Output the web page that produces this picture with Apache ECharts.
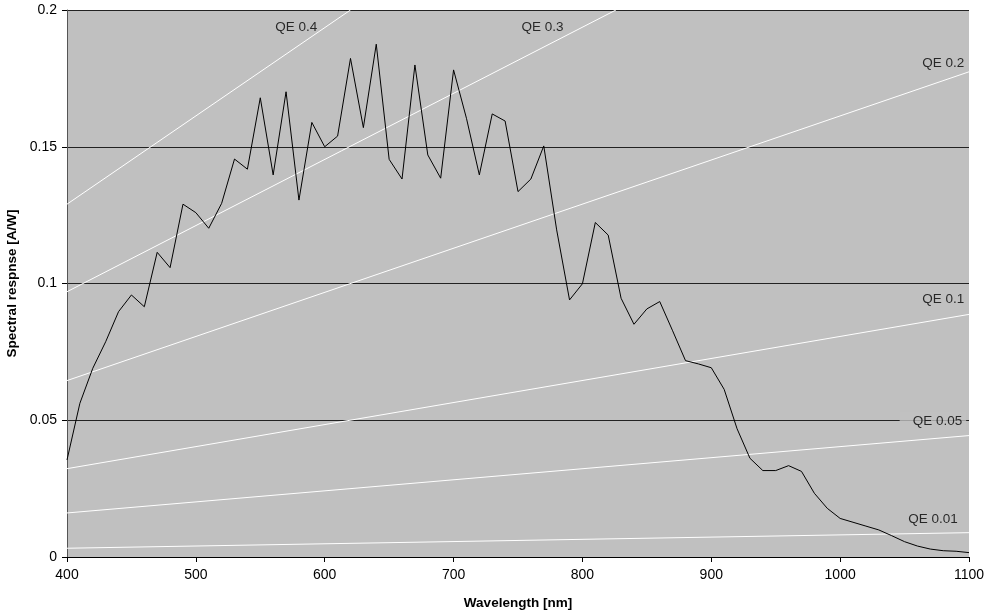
<!DOCTYPE html>
<html>
<head>
<meta charset="utf-8">
<script src="https://cdn.jsdelivr.net/npm/echarts@6/dist/echarts.min.js"></script>
<style>
  html, body { margin: 0; padding: 0; background: #fff; }
  #chart { width: 987px; height: 614px; }
</style>
</head>
<body>
<div id="chart"></div>
<script>
// Wavelength samples (nm)
const wavelengths = [
  400, 410, 420, 430, 440, 450, 460, 470, 480, 490,
  500, 510, 520, 530, 540, 550, 560, 570, 580, 590,
  600, 610, 620, 630, 640, 650, 660, 670, 680, 690,
  700, 710, 720, 730, 740, 750, 760, 770, 780, 790,
  800, 810, 820, 830, 840, 850, 860, 870, 880, 890,
  900, 910, 920, 930, 940, 950, 960, 970, 980, 990,
  1000, 1010, 1020, 1030, 1040, 1050, 1060, 1070, 1080, 1090, 1100
];

// Measured spectral response (A/W)
const response = [
  0.0355, 0.0562, 0.0690, 0.0787, 0.0897, 0.0958, 0.0915, 0.1114, 0.1058, 0.1290,
  0.1259, 0.1202, 0.1293, 0.1455, 0.1418, 0.1679, 0.1397, 0.1701, 0.1305, 0.1589,
  0.1500, 0.1539, 0.1823, 0.1570, 0.1875, 0.1454, 0.1382, 0.1799, 0.1470, 0.1385,
  0.1781, 0.1604, 0.1397, 0.1620, 0.1594, 0.1336, 0.1382, 0.1503, 0.1196, 0.0940,
  0.0999, 0.1223, 0.1177, 0.0946, 0.0851, 0.0907, 0.0934, 0.0827, 0.0718, 0.0706,
  0.0692, 0.0613, 0.0469, 0.0361, 0.0316, 0.0316, 0.0334, 0.0313, 0.0233, 0.0178,
  0.0141, 0.0127, 0.0113, 0.0099, 0.0078, 0.0056, 0.0040, 0.0029, 0.0023, 0.0021, 0.0016
];

// Constant quantum-efficiency reference lines, as [wavelength, A/W] endpoints
const qe04 = [[400, 0.129], [620, 0.200]];
const qe03 = [[400, 0.097], [826, 0.200]];
const qe02 = [[400, 0.0645], [1100, 0.1774]];
const qe01 = [[400, 0.0323], [1100, 0.0887]];
const qe005 = [[400, 0.0161], [1100, 0.0444]];
const qe001 = [[400, 0.0032], [1100, 0.0089]];

// Captions for the QE lines: [wavelength, A/W, text]
const qeLabels = [
  [578, 0.1938, 'QE 0.4'],
  [769, 0.1938, 'QE 0.3'],
  [1080, 0.1806, 'QE 0.2'],
  [1080, 0.0943, 'QE 0.1'],
  [1072, 0.0497, 'QE 0.05'],
  [1072, 0.0139, 'QE 0.01']
];

const xTicks = [400, 1100, 100];
const yTicks = [0, 0.2, 0.05];

const FONT = '"Liberation Sans", Arial, sans-serif';
const PLOT_BG = '#C0C0C0';

function qeLine(data) {
  return {
    type: 'line',
    data: data,
    symbol: 'none',
    silent: true,
    clip: true,
    lineStyle: { color: '#ffffff', width: 1 },
    z: 2
  };
}

const chart = echarts.init(document.getElementById('chart'), null, { renderer: 'canvas' });

chart.setOption({
  animation: false,
  backgroundColor: '#ffffff',
  grid: {
    left: 67, right: 18, top: 10, bottom: 57,
    outerBoundsMode: 'none',
    containLabel: false,
    show: true,
    backgroundColor: PLOT_BG,
    borderWidth: 0
  },
  xAxis: {
    type: 'value',
    min: xTicks[0], max: xTicks[1], interval: xTicks[2],
    name: 'Wavelength [nm]',
    nameLocation: 'middle',
    nameGap: 39,
    nameTextStyle: { fontFamily: FONT, fontSize: 13.5, fontWeight: 'bold', color: '#000' },
    axisLine: { show: true, onZero: false, lineStyle: { color: '#000', width: 1 } },
    axisTick: { show: true, length: 5, inside: false, lineStyle: { color: '#000' } },
    axisLabel: {
      fontFamily: FONT, fontSize: 14, color: '#000', margin: 11,
      formatter: v => String(v)
    },
    splitLine: { show: false }
  },
  yAxis: {
    type: 'value',
    min: yTicks[0], max: yTicks[1], interval: yTicks[2],
    name: 'Spectral respnse [A/W]',
    nameLocation: 'middle',
    nameGap: 42,
    nameTextStyle: { fontFamily: FONT, fontSize: 13.5, fontWeight: 'bold', color: '#000' },
    axisLine: { show: true, lineStyle: { color: '#555', width: 1 } },
    axisTick: { show: true, length: 5, inside: false, lineStyle: { color: '#000' } },
    axisLabel: { fontFamily: FONT, fontSize: 14, color: '#000', margin: 10 },
    splitLine: { show: true, lineStyle: { color: '#222', width: 1 } }
  },
  series: [
    qeLine(qe04),
    qeLine(qe03),
    qeLine(qe02),
    qeLine(qe01),
    qeLine(qe005),
    qeLine(qe001),
    {
      type: 'line',
      data: wavelengths.map((w, i) => [w, response[i]]),
      symbol: 'none',
      clip: true,
      lineStyle: { color: '#000', width: 1 },
      z: 3
    },
    {
      type: 'scatter',
      data: qeLabels.map(d => {
        const item = { value: d };
        // the 0.05 caption sits on a gridline and masks it
        if (d[2] === 'QE 0.05') {
          item.label = { backgroundColor: PLOT_BG, padding: [2, 4, 2, 13] };
        }
        return item;
      }),
      symbolSize: 0,
      silent: true,
      z: 4,
      label: {
        show: true,
        position: 'inside',
        formatter: p => p.value[2],
        fontFamily: FONT,
        fontSize: 13.5,
        color: '#000'
      }
    }
  ]
});
</script>
</body>
</html>
